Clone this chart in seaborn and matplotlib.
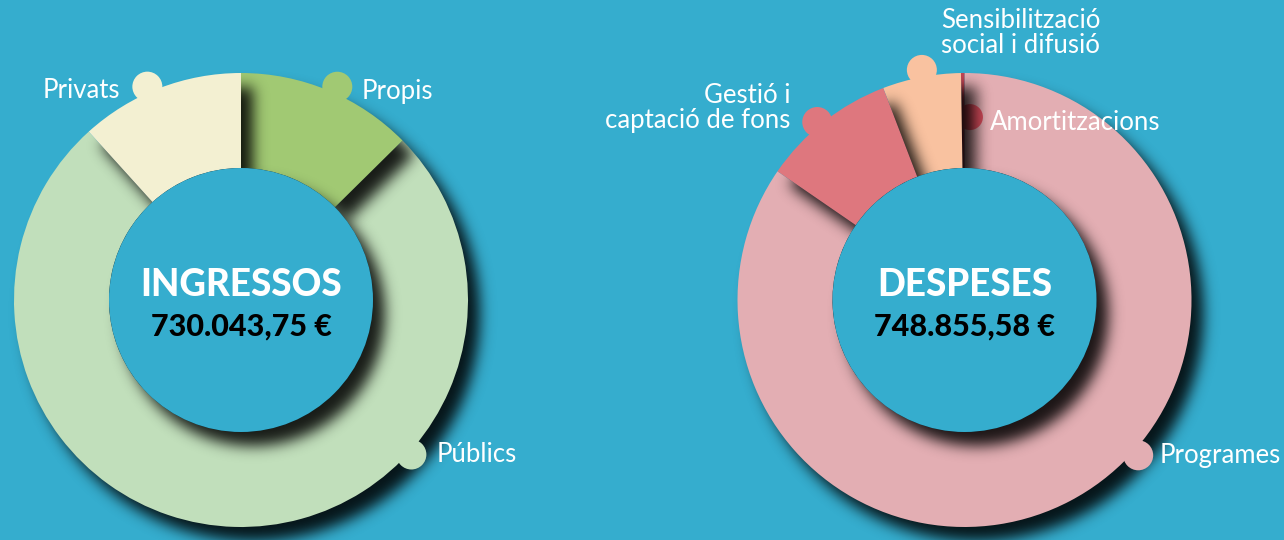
import numpy as np
import matplotlib
matplotlib.use("Agg")
import matplotlib.pyplot as plt
import seaborn as sns
from matplotlib.patches import Wedge, Circle

# ---------------- data ----------------
ingressos_labels = ["Privats", "Públics", "Propis"]
ingressos_values = [85418.75, 552640.00, 91985.00]
ingressos_title = "INGRESSOS"
ingressos_total = "730.043,75 €"

despeses_labels = ["Amortitzacions", "Sensibilització\nsocial i difusió",
                   "Gestió i\ncaptació de fons", "Programes"]
despeses_values = [1855.58, 41790.00, 71740.00, 633470.00]
despeses_title = "DESPESES"
despeses_total = "748.855,58 €"

# ---------------- style ----------------
BG = "#35ADCE"
ingressos_colors = ["#F3F0D2", "#C1DFBB", "#A1C973"]
despeses_colors = ["#C44553", "#F9C2A0", "#DE777E", "#E3AEB3"]

sns.set_theme(style="white")
plt.rcParams["font.family"] = ["Lato", "DejaVu Sans"]

W, H = 1284, 540
R_OUT, R_IN = 227, 132


def blur(a, sigma):
    r = int(3 * sigma) + 1
    x = np.arange(-r, r + 1)
    k = np.exp(-0.5 * (x / sigma) ** 2)
    k /= k.sum()
    out = np.zeros_like(a)
    for i, w in zip(x, k):
        out += w * np.roll(a, i, axis=0)
    out2 = np.zeros_like(a)
    for i, w in zip(x, k):
        out2 += w * np.roll(out, i, axis=1)
    return out2


class DropShadow:
    def __init__(self, sigma=7, alpha=0.88, dx=12, dy=14):
        self.sigma, self.alpha, self.dx, self.dy = sigma, alpha, dx, dy

    def __call__(self, im, dpi):
        s = dpi / 100.0
        sig = self.sigma * s
        dx, dy = int(round(self.dx * s)), int(round(self.dy * s))
        pad = int(3 * sig) + max(abs(dx), abs(dy)) + 4
        a = np.pad(im[..., 3].astype(float), pad)
        a = blur(a, sig)
        a = np.roll(np.roll(a, dx, axis=1), dy, axis=0)
        out = np.zeros(a.shape + (4,))
        out[..., 3] = np.clip(a * self.alpha, 0, 1)
        return out, -pad, -pad


def py(y):
    return H - y


fig = plt.figure(figsize=(W / 100, H / 100), dpi=100, facecolor=BG)
ax = fig.add_axes([0, 0, 1, 1])
ax.set_facecolor(BG)


def donut(center, values, colors, stack, dots, title, total):
    cx, cy = center
    wedges, _ = ax.pie(values, colors=colors, startangle=90, counterclock=True,
                       radius=R_OUT, center=center, frame=True,
                       wedgeprops=dict(width=R_OUT - R_IN, linewidth=0))
    for w, z, col, (ang, rad, dr) in zip(wedges, stack, colors, dots):
        w.set_zorder(z)
        sh = Wedge(center, R_OUT, w.theta1, w.theta2, width=R_OUT - R_IN,
                   facecolor="black", linewidth=0, zorder=z - 0.5)
        sh.set_agg_filter(DropShadow())
        ax.add_patch(sh)
        t = np.deg2rad(ang)
        ax.add_patch(Circle((cx + rad * np.cos(t), cy + rad * np.sin(t)), dr,
                            facecolor=col, linewidth=0, zorder=z + 0.1))
    hole_sh = Circle(center, R_IN, facecolor="black", linewidth=0, zorder=9.5)
    hole_sh.set_agg_filter(DropShadow())
    ax.add_patch(hole_sh)
    ax.add_patch(Circle(center, R_IN, facecolor=BG, linewidth=0, zorder=10))
    ax.text(cx, cy + 15, title, ha="center", va="center", color="white",
            fontsize=26.5, fontweight="black", zorder=20)
    ax.text(cx, cy - 27, total, ha="center", va="center", color="black",
            fontsize=22, fontweight="black", zorder=20)


# left donut: Privats / Públics / Propis
donut((241, py(300)), ingressos_values, ingressos_colors,
      stack=[3, 1, 2],
      dots=[(113.7, 233, 15), (-42.2, 230, 15), (65.7, 234, 15)],
      title=ingressos_title, total=ingressos_total)

# right donut: Amortitzacions / Sensibilització / Gestió / Programes
donut((964.5, py(300)), despeses_values, despeses_colors,
      stack=[2, 3, 4, 1],
      dots=[(88.3, 183, 13), (100.5, 234, 15), (129.6, 231, 15), (-41.8, 233, 15)],
      title=despeses_title, total=despeses_total)

lab = dict(color="white", fontsize=18.5, fontweight="normal", va="center",
           zorder=20, linespacing=1.0)
ax.text(120, py(91), ingressos_labels[0], ha="right", **lab)
ax.text(437, py(455), ingressos_labels[1], ha="left", **lab)
ax.text(362, py(91), ingressos_labels[2], ha="left", **lab)
ax.text(990, py(122), despeses_labels[0], ha="left", **lab)
ax.text(941, py(33), despeses_labels[1], ha="left", multialignment="left", **lab)
ax.text(790, py(108), despeses_labels[2], ha="right", multialignment="right", **lab)
ax.text(1160, py(455), despeses_labels[3], ha="left", **lab)

ax.set_xlim(0, W)
ax.set_ylim(0, H)
ax.set_aspect("auto")
ax.axis("off")

fig.savefig("out.png", dpi=100, facecolor=BG)
